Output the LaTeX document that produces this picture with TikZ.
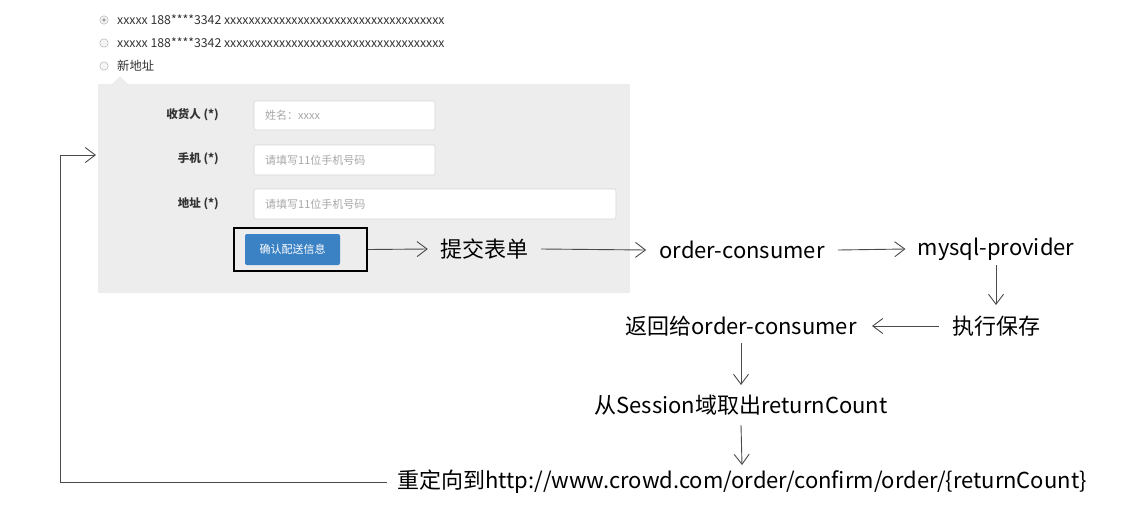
\documentclass[tikz,border=0pt]{standalone}
\usepackage{fontspec}
\setmainfont{Noto Sans CJK SC}
\usetikzlibrary{arrows.meta}
\definecolor{panelgray}{HTML}{EDEDEE}
\definecolor{btnblue}{HTML}{3B82C4}
\definecolor{linegray}{HTML}{4A4A4A}
\definecolor{boxborder}{HTML}{D6D6D6}
\definecolor{phgray}{HTML}{A8A8A8}
\definecolor{labeldark}{HTML}{333333}
\tikzset{
  arr/.style={draw=linegray, line width=0.9pt, -{Straight Barb[length=10pt,width=15pt,line width=0.9pt]}},
  flow/.style={font=\fontsize{22}{25}\selectfont, text=black, inner sep=0pt},
  inbox/.style={draw=boxborder, fill=white, rounded corners=2pt, line width=0.6pt},
  ph/.style={font=\fontsize{11}{13}\selectfont, text=phgray, anchor=west, inner sep=0pt},
  flabel/.style={font=\fontsize{11.5}{13}\selectfont\bfseries, text=labeldark, anchor=east, inner sep=0pt},
  radio/.style={draw=gray!60, fill=gray!8, line width=0.5pt},
  rtext/.style={font=\fontsize{12.3}{14}\selectfont, text=labeldark, anchor=west, inner sep=0pt},
}
\begin{document}
\begin{tikzpicture}[x=1pt,y=-1pt]
\useasboundingbox[fill=white] (0,0) rectangle (1135,528);
% top white area and gray panel
\fill[white] (98,0) rectangle (630,84);
\fill[panelgray] (98,84) rectangle (630,293);
\fill[panelgray] (112,84) -- (120,76) -- (128,84) -- cycle;
% radios
\draw[radio] (104,20) circle (4.2);
\fill[gray!70] (104,20) circle (1.8);
\node[rtext] (r1) at (117,20) {xxxxx 188****3342 xxxxxxxxxxxxxxxxxxxxxxxxxxxxxxxxxxxx};
\draw[radio] (104,43) circle (4.2);
\node[rtext] (r2) at (117,43) {xxxxx 188****3342 xxxxxxxxxxxxxxxxxxxxxxxxxxxxxxxxxxxx};
\draw[radio] (104,66) circle (4.2);
\node[rtext] (r3) at (117,66) {新地址};
% form labels
\node[flabel] (l1) at (219,115) {收货人\ (*)};
\node[flabel] (l2) at (219,159) {手机\ (*)};
\node[flabel] (l3) at (219,204) {地址\ (*)};
% inputs
\draw[inbox] (254,101) rectangle (435,130);
\node[ph] (p1) at (265,115.5) {姓名：xxxx};
\draw[inbox] (254,145) rectangle (435,175);
\node[ph] (p2) at (265,160) {请填写11位手机号码};
\draw[inbox] (254,189) rectangle (616,219);
\node[ph] (p3) at (265,204) {请填写11位手机号码};
% button
\fill[btnblue, rounded corners=2pt] (245,234) rectangle (340,265);
\node[font=\fontsize{11}{13}\selectfont, text=white] (btnt) at (292.5,249.5) {确认配送信息};
\node[draw=black, line width=1.6pt, minimum width=133pt, minimum height=43pt, inner sep=0pt] (btn) at (300.5,249.5) {};
% flow nodes
\node[flow] (submit) at (484,249) {提交表单};
\node[flow] (oc) at (742,250) {order-consumer};
\node[flow] (mp) at (996,249) {mysql-provider};
\node[flow] (save) at (996,326) {执行保存};
\node[flow] (ret) at (741,326) {返回给order-consumer};
\node[flow] (sess) at (741,405) {从Session域取出returnCount};
\node[flow] (redir) at (742,482) {重定向到http://www.crowd.com/order/confirm/order/\{returnCount\}};
% connectors
\draw[arr] (btn.east) -- ([xshift=-12pt]submit.west);
\draw[arr] ([xshift=13pt]submit.east) -- ([xshift=-13pt]oc.west);
\draw[arr] ([xshift=13pt]oc.east) -- ([xshift=-12pt]mp.west);
\draw[arr] ([yshift=-16pt]mp.center) -- ([yshift=21pt]save.center);
\draw[arr] ([xshift=-13pt]save.west) -- ([xshift=-2pt]ret.east -| 874,0);
\draw[arr] ([yshift=-17pt]ret.center) -- ([yshift=20pt]sess.center);
\draw[arr] ([yshift=-20pt]sess.center) -- ([yshift=17pt]redir.center);
\coordinate (fbcorner) at (60,483);
\coordinate (fbtip) at (96,155);
\draw[arr] ([xshift=-10pt]redir.west) -- (redir.west -| fbcorner) |- (fbtip);
\end{tikzpicture}
\end{document}
